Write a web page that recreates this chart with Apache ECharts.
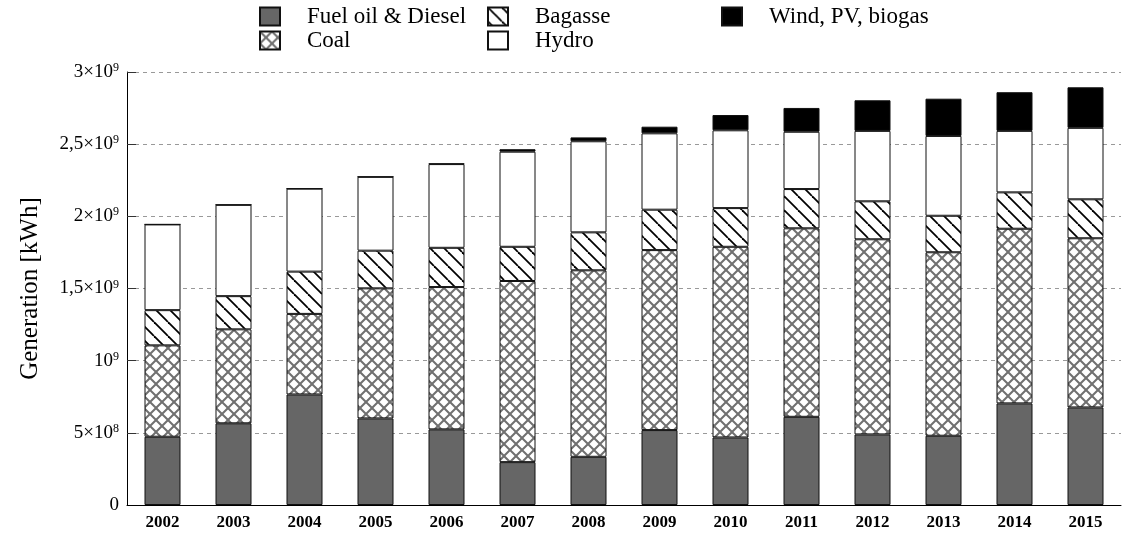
<!DOCTYPE html>
<html>
<head>
<meta charset="UTF-8">
<title>Generation</title>
<script src="https://cdn.jsdelivr.net/npm/echarts@6/dist/echarts.min.js"></script>
<style>
html, body { margin: 0; padding: 0; background: #fff; }
#main { width: 1122px; height: 536px; }
</style>
</head>
<body>
<div id="main"></div>
<script type="text/javascript">
var years = ['2002','2003','2004','2005','2006','2007','2008','2009','2010','2011','2012','2013','2014','2015'];
var fuel    = [4.73e8, 5.66e8, 7.66e8, 6.00e8, 5.24e8, 2.97e8, 3.34e8, 5.19e8, 4.68e8, 6.11e8, 4.89e8, 4.80e8, 7.04e8, 6.76e8];
var coal    = [6.33e8, 6.51e8, 5.58e8, 9.01e8, 9.86e8, 12.55e8, 12.92e8, 12.47e8, 13.21e8, 13.06e8, 13.52e8, 12.71e8, 12.10e8, 11.72e8];
var bagasse = [2.44e8, 2.30e8, 2.93e8, 2.61e8, 2.72e8, 2.37e8, 2.63e8, 2.80e8, 2.68e8, 2.72e8, 2.63e8, 2.53e8, 2.52e8, 2.70e8];
var hydro   = [5.94e8, 6.33e8, 5.75e8, 5.12e8, 5.80e8, 6.59e8, 6.31e8, 5.29e8, 5.39e8, 3.97e8, 4.88e8, 5.53e8, 4.26e8, 4.95e8];
var wind    = [0, 0, 0, 0, 0.04e8, 0.17e8, 0.27e8, 0.46e8, 1.06e8, 1.65e8, 2.12e8, 2.58e8, 2.68e8, 2.81e8];

var serif = 'Liberation Serif';

// motifs de hachures
function makeTile(size, draw) {
	var c = document.createElement('canvas');
	c.width = size; c.height = size;
	var ctx = c.getContext('2d');
	ctx.fillStyle = '#fff';
	ctx.fillRect(0, 0, size, size);
	draw(ctx, size);
	return c;
}
var crossTile = makeTile(12, function(ctx, s) {
	ctx.strokeStyle = '#707070';
	ctx.lineWidth = 2;
	for (var o = -s; o <= s; o += s) {
		ctx.beginPath(); ctx.moveTo(o, 0); ctx.lineTo(o + s, s); ctx.stroke();
		ctx.beginPath(); ctx.moveTo(o + s, 0); ctx.lineTo(o, s); ctx.stroke();
	}
});
var hatchTile = makeTile(14, function(ctx, s) {
	ctx.strokeStyle = '#000';
	ctx.lineWidth = 1.8;
	for (var o = -s; o <= s; o += s) {
		ctx.beginPath(); ctx.moveTo(o, 0); ctx.lineTo(o + s, s); ctx.stroke();
	}
});

function yFormat(v) {
	if (v === 0) return '{b|0}';
	var e = Math.floor(Math.log10(v) + 1e-9);
	var m = Math.round(v / Math.pow(10, e) * 10) / 10;
	var ms = m === 1 ? '' : String(m).replace('.', ',') + '×';
	return '{b|' + ms + '10}{s|' + e + '}';
}

function mkSeries(name, data, color) {
	return {
		name: name,
		type: 'bar',
		stack: 'gen',
		barWidth: 36,
		data: data,
		itemStyle: { color: color, borderColor: '#111', borderWidth: 1 }
	};
}

var legendText = { fontFamily: serif, fontSize: 23, lineHeight: 17, color: '#000', padding: [0, 0, 0, 22] };
function mkLegend(left, names) {
	return {
		left: left, top: 0, orient: 'vertical', itemGap: 1,
		itemWidth: 20, itemHeight: 18, icon: 'rect',
		textStyle: legendText, data: names
	};
}

var myChart = echarts.init(document.getElementById('main'), null, { renderer: 'canvas' });
var option = {
	animation: false,
	backgroundColor: '#fff',
	grid: { left: 127, right: 1, top: 72, bottom: 31 },
	legend: [
		mkLegend(254, ['Fuel oil & Diesel', 'Coal']),
		mkLegend(482, ['Bagasse', 'Hydro']),
		mkLegend(716, ['Wind, PV, biogas'])
	],
	xAxis: {
		type: 'category',
		data: years,
		z: 5,
		axisLine: { lineStyle: { color: '#000', width: 1 } },
		axisTick: { inside: true, alignWithLabel: true, length: 7, lineStyle: { color: '#222' } },
		axisLabel: { fontFamily: serif, fontWeight: 'bold', fontSize: 17, color: '#000', margin: 9 },
		splitLine: { show: false }
	},
	yAxis: {
		type: 'value',
		min: 0, max: 3e9, interval: 5e8,
		name: 'Generation [kWh]',
		nameLocation: 'middle',
		nameGap: 84,
		nameTextStyle: { fontFamily: serif, fontSize: 25, color: '#000' },
		axisLine: { show: true, lineStyle: { color: '#000', width: 1 } },
		axisTick: { show: true, inside: true, length: 9, lineStyle: { color: '#333' } },
		axisLabel: {
			margin: 8,
			formatter: yFormat,
			rich: {
				b: { fontFamily: serif, fontSize: 19, color: '#000' },
				s: { fontFamily: serif, fontSize: 12, color: '#000', verticalAlign: 'top', padding: [0, 0, 8, 0] }
			}
		},
		splitLine: { show: true, lineStyle: { color: '#999', type: [4, 4], width: 1 } }
	},
	series: [
		mkSeries('Fuel oil & Diesel', fuel, '#666666'),
		mkSeries('Coal', coal, { image: crossTile, repeat: 'repeat' }),
		mkSeries('Bagasse', bagasse, { image: hatchTile, repeat: 'repeat' }),
		mkSeries('Hydro', hydro, '#ffffff'),
		mkSeries('Wind, PV, biogas', wind, '#000000')
	]
};
myChart.setOption(option);
</script>
</body>
</html>
